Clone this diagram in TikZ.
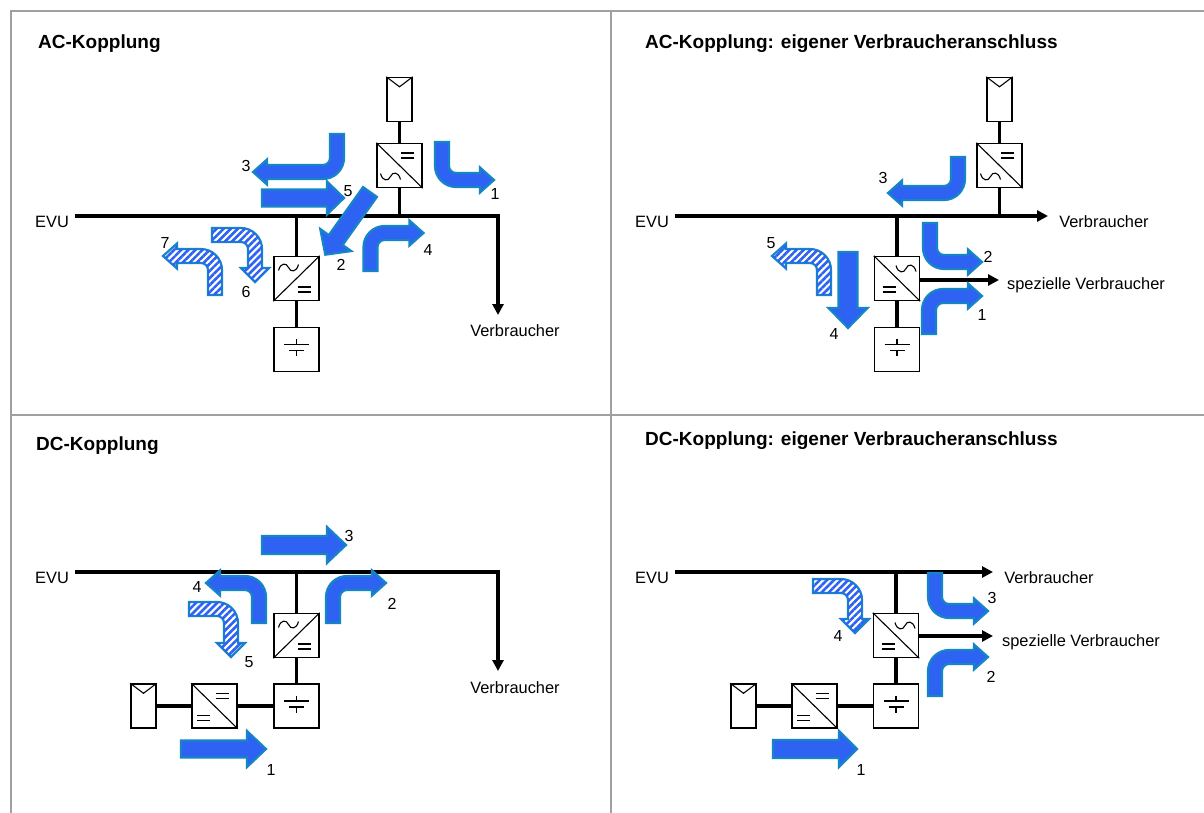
\documentclass[tikz,border=0pt]{standalone}
\usepackage{fontspec}
\setmainfont{Liberation Sans}
\usetikzlibrary{arrows.meta,patterns.meta,calc}
\definecolor{flowfill}{HTML}{2D62F2}
\definecolor{flowedge}{HTML}{1585C8}
\definecolor{framegrey}{HTML}{A0A0A0}
\tikzset{
  framel/.style={draw=framegrey,line width=2pt},
  unit/.style={draw=black,line width=1.4pt,fill=white,inner sep=0pt,minimum width=45pt,minimum height=44pt},
  pvunit/.style={draw=black,line width=1.4pt,fill=white,inner sep=0pt,minimum width=25pt,minimum height=44pt},
  sym/.style={draw=black,line width=1.1pt},
  bus/.style={draw=black,line width=3.4pt},
  busarrow/.style={bus,-{Triangle[length=11pt,width=11pt]}},
  solidflow/.style={draw=flowedge,line width=2.2pt,fill=flowfill},
  hatchflow/.style={draw=flowedge,line width=2.2pt,fill=white,
     postaction={pattern={Lines[angle=45,distance=5pt,line width=2.6pt]},pattern color=flowfill}},
  DR/.style={},
  DL/.style={xscale=-1},
  UR/.style={yscale=-1},
  UL/.style={xscale=-1,yscale=-1},
  RD/.style={cm={0,-1,-1,0,(0,0)}},
  title/.style={font=\bfseries\fontsize{19}{22}\selectfont,anchor=west,inner sep=0pt},
  lab/.style={font=\fontsize{16.4}{19}\selectfont,inner sep=0pt},
  num/.style={font=\fontsize{16}{18}\selectfont,inner sep=0pt},
}
\def\flowhh{12.5}
% bent block arrow: style, x, y, orientation, run a to the elbow, run b to the tip
\newcommand{\bentflow}[6]{%
  \begin{scope}[shift={(#2,#3)},#4]
    \def\aa{#5}\def\bb{#6}\def\hw{7}\def\hh{\flowhh}\def\hl{14}\def\Ro{21}\def\Ri{7}
    \path[#1] ({-\hw},0) -- ({-\hw},{\aa+\hw-\Ro})
      .. controls ({-\hw},{\aa+\hw-.45*\Ro}) and ({-\hw+.45*\Ro},{\aa+\hw}) .. ({-\hw+\Ro},{\aa+\hw})
      -- ({\bb-\hl},{\aa+\hw}) -- ({\bb-\hl},{\aa+\hh}) -- (\bb,\aa) -- ({\bb-\hl},{\aa-\hh}) -- ({\bb-\hl},{\aa-\hw})
      -- ({\hw+\Ri},{\aa-\hw})
      .. controls ({\hw+.45*\Ri},{\aa-\hw}) and (\hw,{\aa-\hw-.45*\Ri}) .. (\hw,{\aa-\hw-\Ri})
      -- (\hw,0) -- cycle;
  \end{scope}}
% straight block arrow: x, y, angle, length, half body, half head, head length
\newcommand{\straightflow}[7]{%
  \begin{scope}[shift={(#1,#2)},rotate=#3]
    \path[solidflow] (0,{-#5}) -- ({#4-#7},{-#5}) -- ({#4-#7},{-#6}) -- (#4,0) -- ({#4-#7},#6) -- ({#4-#7},#5) -- (0,#5) -- cycle;
  \end{scope}}
\newcommand{\eqsym}[2]{\draw[sym] ({#1-6.5},{#2-2.5}) -- ({#1+6.5},{#2-2.5}) ({#1-6.5},{#2+2.5}) -- ({#1+6.5},{#2+2.5});}
\newcommand{\waveud}[2]{\draw[sym] ({#1-10},{#2-3}) .. controls ({#1-8},{#2+5}) and ({#1-2},{#2+5}) .. (#1,#2) .. controls ({#1+2},{#2-5}) and ({#1+8},{#2-5}) .. ({#1+10},{#2+3});}
\newcommand{\wavedu}[2]{\draw[sym] ({#1-10},{#2+3}) .. controls ({#1-8},{#2-5}) and ({#1-2},{#2-5}) .. (#1,#2) .. controls ({#1+2},{#2+5}) and ({#1+8},{#2+5}) .. ({#1+10},{#2-3});}
\newcommand{\pvunit}[3]{\node[pvunit] (#1) at (#2,#3) {};
  \draw[sym] (#1.north west) -- ($(#1.north)+(0,10)$) -- (#1.north east);}
\newcommand{\batunit}[3]{\node[unit] (#1) at (#2,#3) {};
  \begin{scope}[shift={(#2,#3)}]
    \draw[sym] (-12.5,-5) -- (12.5,-5) (-7.5,1) -- (7.5,1) (0,-10.5) -- (0,-5) (0,1) -- (0,6.5);
  \end{scope}}
\newcommand{\invpv}[3]{\node[unit] (#1) at (#2,#3) {};
  \draw[sym] (#1.north west) -- (#1.south east);
  \begin{scope}[shift={(#2,#3)}]\eqsym{8}{-10}\waveud{-9}{11}\end{scope}}
\newcommand{\invbat}[3]{\node[unit] (#1) at (#2,#3) {};
  \draw[sym] (#1.south west) -- (#1.north east);
  \begin{scope}[shift={(#2,#3)}]\wavedu{-8}{-11}\eqsym{8}{11}\end{scope}}
\newcommand{\invbatm}[3]{\node[unit] (#1) at (#2,#3) {};
  \draw[sym] (#1.north west) -- (#1.south east);
  \begin{scope}[shift={(#2,#3)}]\waveud{9}{-10}\eqsym{-8}{11}\end{scope}}
\newcommand{\dcdc}[3]{\node[unit] (#1) at (#2,#3) {};
  \draw[sym] (#1.north west) -- (#1.south east);
  \begin{scope}[shift={(#2,#3)}]\eqsym{8}{-10}\eqsym{-11}{12}\end{scope}}
\begin{document}
\begin{tikzpicture}[x=1pt,y=-1pt]
\useasboundingbox (0,0) rectangle (1204,813);
\fill[white] (0,0) rectangle (1204,813);
% frame
\coordinate (f-tl) at (11,11); \coordinate (f-tr) at (1204,11);
\coordinate (f-bl) at (11,813); \coordinate (f-ml) at (11,414.5); \coordinate (f-mr) at (1204,414.5);
\coordinate (f-tm) at (610.5,11); \coordinate (f-bm) at (610.5,813);
\draw[framel] (f-bl) -- (f-tl) -- (f-tr) (f-ml) -- (f-mr) (f-tm) -- (f-bm);
% titles
\node[title] (t1) at (38,44) {AC-Kopplung};
\node[title] (t2) at (645,44) {AC-Kopplung: eigener Verbraucheranschluss};
\node[title] (t3) at (36,446) {DC-Kopplung};
\node[title] (t4) at (645,441) {DC-Kopplung: eigener Verbraucheranschluss};

% ---------- panel 1
\coordinate (a-w) at (75,216); \coordinate (a-c) at (498,216); \coordinate (a-e) at (498,315);
\draw[busarrow] (a-w) -- (a-c) -- (a-e);
\pvunit{a-pv}{399.5}{99.5}
\invpv{a-inv}{399.5}{165.5}
\invbat{a-ib}{296.5}{278.5}
\batunit{a-bat}{296.5}{349.5}
\draw[bus] (a-pv) -- (a-inv);
\draw[bus] (a-inv) -- (a-inv |- a-w);
\draw[bus] (a-ib) -- (a-ib |- a-w);
\draw[bus] (a-ib) -- (a-bat);
\bentflow{solidflow}{442}{142}{DR}{38}{52}
\bentflow{solidflow}{337}{134}{DL}{38}{84}
\bentflow{solidflow}{370.5}{271}{UR}{38}{53}
\bentflow{hatchflow}{215}{295}{UL}{39}{52}
{\def\flowhh{14}\bentflow{hatchflow}{212}{235}{RD}{43}{47}}
\straightflow{262}{198}{0}{82}{8.5}{16.5}{17}
\straightflow{370}{192}{-125.5}{77}{8.5}{19}{18}
\node[num] (a1) at (495,194) {1};
\node[num] (a2) at (341,265) {2};
\node[num] (a3) at (246,166) {3};
\node[num] (a4) at (428,250) {4};
\node[num] (a5) at (348,191) {5};
\node[num] (a6) at (246,292) {6};
\node[num] (a7) at (165,243) {7};
\node[lab] (a-evu) at (52,222) {EVU};
\node[lab] (a-v) at (515,331) {Verbraucher};

% ---------- panel 2
\coordinate (b-w) at (675,216); \coordinate (b-e) at (1048,216); \coordinate (b-s) at (999,280);
\pvunit{b-pv}{999.5}{99.5}
\invpv{b-inv}{999.5}{165.5}
\invbatm{b-ib}{897}{278.5}
\batunit{b-bat}{897}{349.5}
\draw[busarrow] (b-w) -- (b-e);
\draw[bus] (b-pv) -- (b-inv);
\draw[bus] (b-inv) -- (b-inv |- b-w);
\draw[bus] (b-ib) -- (b-ib |- b-w);
\draw[bus] (b-ib) -- (b-bat);
\draw[busarrow] (b-ib.east |- b-s) -- (b-s);
\bentflow{solidflow}{958}{157}{DL}{36}{70}
\bentflow{solidflow}{930}{223}{DR}{39}{52}
\bentflow{solidflow}{929}{334}{UR}{38}{53}
\bentflow{hatchflow}{824}{295}{UL}{39}{52}
\straightflow{848}{252}{-90}{76}{9.5}{19.5}{20}
\node[num] (b1) at (982,315) {1};
\node[num] (b2) at (988,257) {2};
\node[num] (b3) at (883,178) {3};
\node[num] (b4) at (834,334) {4};
\node[num] (b5) at (771,243) {5};
\node[lab] (b-evu) at (652,222) {EVU};
\node[lab] (b-v) at (1104,222) {Verbraucher};
\node[lab] (b-sv) at (1086,285) {spezielle Verbraucher};

% ---------- panel 3
\coordinate (c-w) at (75,572); \coordinate (c-c) at (498,572); \coordinate (c-e) at (498,671);
\draw[busarrow] (c-w) -- (c-c) -- (c-e);
\pvunit{c-pv}{143.5}{706}
\dcdc{c-dc}{214.5}{706}
\invbat{c-ib}{296.5}{635.5}
\batunit{c-bat}{296.5}{706}
\draw[bus] (c-ib) -- (c-ib |- c-w);
\draw[bus] (c-ib) -- (c-bat);
\draw[bus] (c-pv) -- (c-dc);
\draw[bus] (c-dc) -- (c-bat);
\bentflow{solidflow}{333}{623}{UR}{40}{53}
\bentflow{solidflow}{259}{623}{UL}{40}{53}
{\def\flowhh{14}\bentflow{hatchflow}{189}{609}{RD}{42}{48}}
\straightflow{262}{545}{0}{84}{9}{18}{19}
\straightflow{181}{749}{0}{85}{8.5}{18}{19}
\node[num] (c1) at (271,770) {1};
\node[num] (c2) at (392,604) {2};
\node[num] (c3) at (349,536) {3};
\node[num] (c4) at (197,587) {4};
\node[num] (c5) at (249,662) {5};
\node[lab] (c-evu) at (52,578) {EVU};
\node[lab] (c-v) at (515,688) {Verbraucher};

% ---------- panel 4
\coordinate (d-w) at (675,572); \coordinate (d-e) at (993,572); \coordinate (d-s) at (993,636);
\pvunit{d-pv}{743.5}{706}
\dcdc{d-dc}{814.5}{706}
\invbatm{d-ib}{896}{635.5}
\batunit{d-bat}{896}{706}
\draw[busarrow] (d-w) -- (d-e);
\draw[bus] (d-ib) -- (d-ib |- d-w);
\draw[bus] (d-ib) -- (d-bat);
\draw[bus] (d-pv) -- (d-dc);
\draw[bus] (d-dc) -- (d-bat);
\draw[busarrow] (d-ib.east |- d-s) -- (d-s);
\bentflow{solidflow}{935}{573}{DR}{38}{53}
\bentflow{solidflow}{935}{696}{UR}{39}{53}
{\def\flowhh{14}\bentflow{hatchflow}{813}{586}{RD}{42}{47}}
\straightflow{773}{749}{0}{84}{9}{18}{18}
\node[num] (d1) at (861,770) {1};
\node[num] (d2) at (991,677) {2};
\node[num] (d3) at (992,598) {3};
\node[num] (d4) at (838,636) {4};
\node[lab] (d-evu) at (652,578) {EVU};
\node[lab] (d-v) at (1049,578) {Verbraucher};
\node[lab] (d-sv) at (1081,642) {spezielle Verbraucher};
\end{tikzpicture}
\end{document}
